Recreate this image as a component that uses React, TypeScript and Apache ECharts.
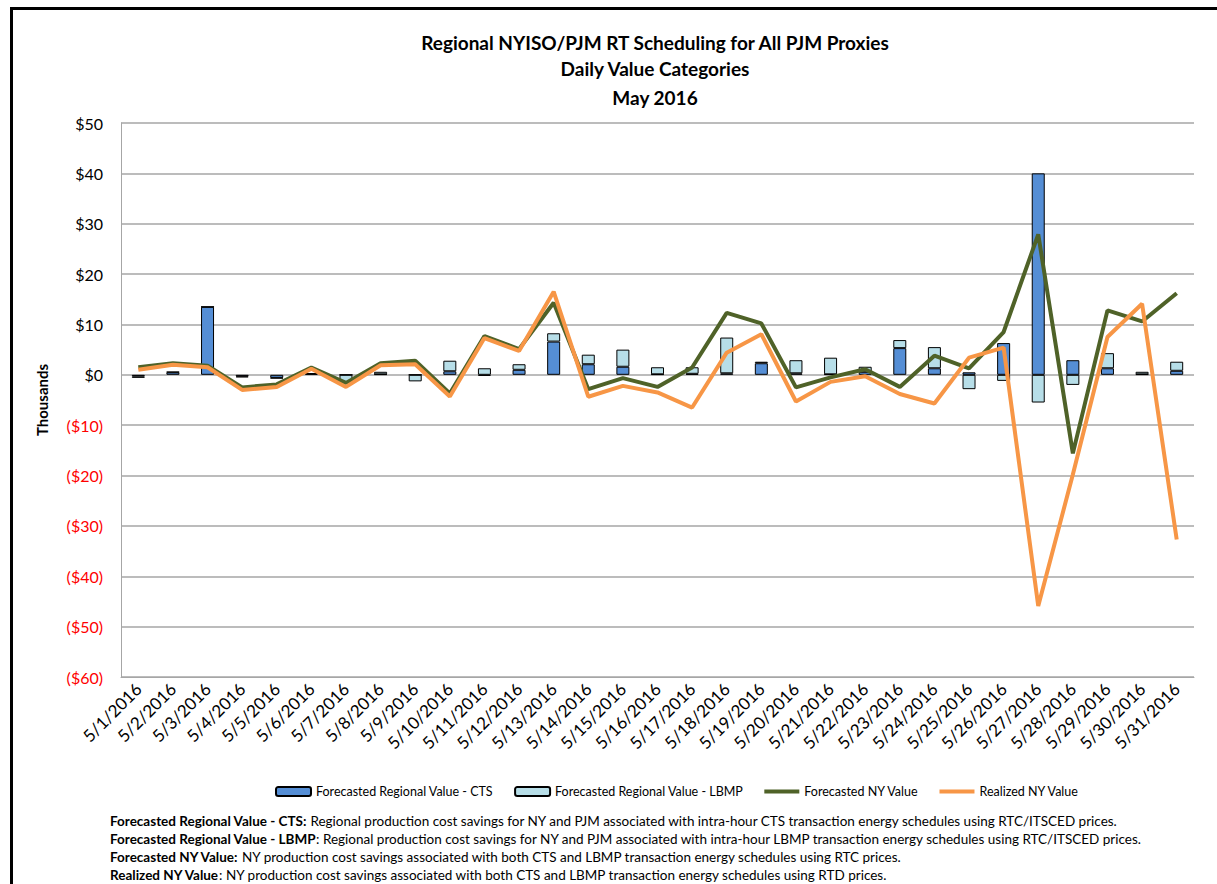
import React, { useEffect, useRef } from "react";
import * as echarts from "echarts";

const days: string[] = Array.from({ length: 31 }, (_, i) => `5/${i + 1}/2016`);

const ctsValues = [-0.3, 0.5, 13.5, -0.3, -0.6, 0.2, 0, 0.1, 0, 0.7, -0.2, 1.0, 6.6, 2.1, 1.6, 0.1, 0.2, 0.3, 2.3, 0.3, 0.1, 0.6, 5.3, 1.3, 0.5, 6.3, 40, 2.9, 1.3, 0.1, 0.8];
const lbmpValues = [-0.3, 0.1, 0, -0.2, -0.1, 0.1, -1.5, 0.5, -1.3, 2.1, 1.3, 1.1, 1.65, 1.9, 3.4, 1.4, 1.3, 7.1, 0.3, 2.6, 3.3, 1.0, 1.6, 4.2, -2.85, -1.2, -5.5, -2.0, 3.0, 0.5, 1.8];
const forecastNY = [1.5, 2.3, 1.8, -2.5, -1.9, 1.45, -1.6, 2.3, 2.8, -3.7, 7.7, 5.1, 14.3, -2.85, -0.65, -2.4, 1.45, 12.3, 10.2, -2.5, -0.5, 1.1, -2.4, 3.8, 1.3, 8.5, 27.9, -15.6, 12.8, 10.6, 16.2];
const realizedNY = [1.0, 2.0, 1.5, -3.0, -2.4, 1.2, -2.4, 1.9, 2.1, -4.3, 7.3, 4.75, 16.5, -4.35, -2.2, -3.5, -6.5, 4.4, 8.05, -5.3, -1.4, -0.3, -3.8, -5.7, 3.4, 5.4, -45.9, -19.8, 7.5, 14.1, -32.7];

const titleLines = ["Regional NYISO/PJM RT Scheduling for All PJM Proxies", "Daily Value Categories", "May 2016"];
const seriesNames = ["Forecasted Regional Value - CTS", "Forecasted Regional Value - LBMP", "Forecasted NY Value", "Realized NY Value"];
const footnotes: [string, string][] = [
  ["Forecasted Regional Value - CTS:", " Regional production cost savings for NY and PJM associated with intra-hour CTS transaction energy schedules using RTC/ITSCED prices."],
  ["Forecasted Regional Value - LBMP", ": Regional production cost savings for NY and PJM associated with intra-hour LBMP transaction energy schedules using RTC/ITSCED prices."],
  ["Forecasted NY Value:", " NY production cost savings associated with both CTS and LBMP transaction energy schedules using RTC prices."],
  ["Realized NY Value", ": NY production cost savings associated with both CTS and LBMP transaction energy schedules using RTD prices."],
];

const FONT = "Lato, 'Liberation Sans', sans-serif";
const LINE_ICON = "path://M0,0h34v4h-34z";

export default function App() {
  const ref = useRef<HTMLDivElement>(null);
  useEffect(() => {
    document.body.style.margin = "0";
    const chart = echarts.init(ref.current!, null, { renderer: "svg" });
    const footText = footnotes.map(([b, r]) => `{b|${b}}{r|${r}}`).join("\n");
    const titleY = [42, 68, 97];
    chart.setOption({
      animation: false,
      backgroundColor: "#ffffff",
      textStyle: { fontFamily: FONT },
      legend: {
        top: 780,
        left: 270,
        itemWidth: 35,
        itemHeight: 9,
        itemGap: 21,
        textStyle: { fontFamily: FONT, fontSize: 12.5, color: "#000" },
        data: [
          { name: seriesNames[0] },
          { name: seriesNames[1] },
          { name: seriesNames[2], icon: LINE_ICON, itemStyle: { color: "#4f6228" } },
          { name: seriesNames[3], icon: LINE_ICON, itemStyle: { color: "#f79646" } },
        ],
      },
      grid: { left: 121, right: 23, top: 123, bottom: 207, containLabel: false },
      xAxis: {
        type: "category",
        data: days,
        axisTick: { show: false },
        axisLine: { onZero: false, lineStyle: { color: "#a6a6a6" } },
        axisLabel: { interval: 0, rotate: 45, fontSize: 17, color: "#000", margin: 9, fontFamily: FONT },
      },
      yAxis: {
        type: "value",
        min: -60,
        max: 50,
        interval: 10,
        name: "Thousands",
        nameLocation: "middle",
        nameGap: 72,
        nameTextStyle: { fontFamily: FONT, fontSize: 15, fontWeight: "bold", color: "#000" },
        axisLine: { show: true, lineStyle: { color: "#a6a6a6" } },
        axisTick: { show: false },
        splitLine: { lineStyle: { color: "#a6a6a6", width: 1.5 } },
        axisLabel: {
          fontSize: 16,
          margin: 18,
          fontFamily: FONT,
          formatter: (v: number) => (v < 0 ? `($${-v})` : `$${v}`),
          color: (v: any) => (Number(v) < 0 ? "#ff0000" : "#000000"),
        },
      },
      series: [
        {
          name: seriesNames[0],
          type: "bar",
          stack: "regional",
          data: ctsValues,
          barWidth: 13,
          itemStyle: { color: "#558ed5", borderColor: "#000", borderWidth: 1 },
        },
        {
          name: seriesNames[1],
          type: "bar",
          stack: "regional",
          data: lbmpValues,
          barWidth: 13,
          itemStyle: { color: "#b7dee8", borderColor: "#000", borderWidth: 1 },
        },
        {
          name: seriesNames[2],
          type: "line",
          data: forecastNY,
          symbol: "none",
          lineStyle: { color: "#4f6228", width: 4 },
          itemStyle: { color: "#4f6228" },
        },
        {
          name: seriesNames[3],
          type: "line",
          data: realizedNY,
          symbol: "none",
          lineStyle: { color: "#f79646", width: 4 },
          itemStyle: { color: "#f79646" },
        },
      ],
      graphic: [
        {
          type: "rect",
          shape: { x: 11.5, y: 8.5, width: 1400, height: 1000 },
          style: { fill: "none", stroke: "#000", lineWidth: 3 },
          silent: true,
        },
        ...titleLines.map((t, i) => ({
          type: "text",
          x: 655,
          y: titleY[i],
          style: {
            text: t,
            fontFamily: FONT,
            fontSize: 19,
            fontWeight: "bold",
            fill: "#000",
            align: "center",
            verticalAlign: "middle",
          },
        })),
        {
          type: "text",
          left: 110,
          top: 812,
          style: {
            text: footText,
            fontFamily: FONT,
            fontSize: 13.5,
            lineHeight: 18,
            fill: "#000",
            rich: {
              b: { fontWeight: "bold", fontSize: 13.5, fontFamily: FONT, lineHeight: 18 },
              r: { fontSize: 13.5, fontFamily: FONT, lineHeight: 18 },
            },
          },
        },
      ],
    });
    return () => chart.dispose();
  }, []);
  return <div ref={ref} style={{ position: "absolute", left: 0, top: 0, width: 1217, height: 884 }} />;
}
